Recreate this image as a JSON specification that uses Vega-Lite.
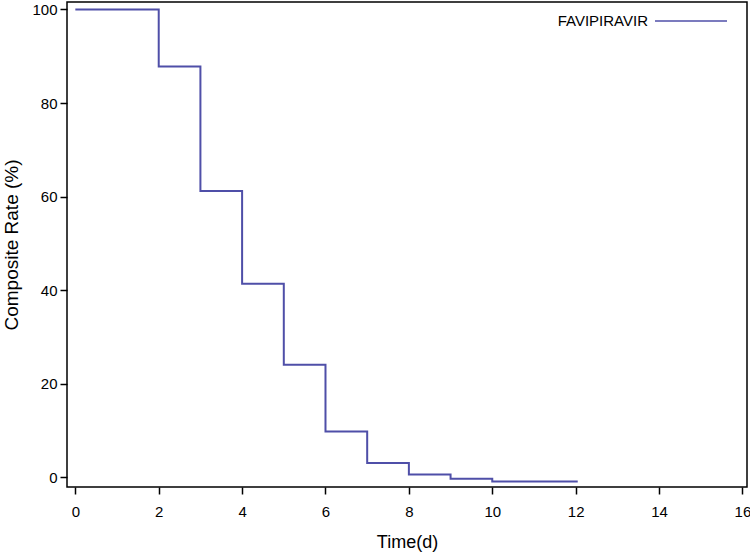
{
  "$schema": "https://vega.github.io/schema/vega-lite/v6.json",
  "width": 680,
  "height": 485,
  "autosize": "none",
  "padding": {"left": 67, "top": 2, "right": 3, "bottom": 66},
  "background": "white",
  "config": {
    "view": {"stroke": "black", "strokeWidth": 1.5},
    "font": "Liberation Sans",
    "axis": {"grid": false, "domain": false, "tickColor": "black", "labelColor": "black", "titleColor": "black", "labelFontSize": 15, "titleFontSize": 18, "titleFontWeight": "normal", "tickSize": 7, "tickWidth": 1.5}
  },
  "data": {
    "values": [
      {"t": 0, "rate": 100, "group": "FAVIPIRAVIR"},
      {"t": 2, "rate": 87.8, "group": "FAVIPIRAVIR"},
      {"t": 3, "rate": 61.2, "group": "FAVIPIRAVIR"},
      {"t": 4, "rate": 41.4, "group": "FAVIPIRAVIR"},
      {"t": 5, "rate": 24.1, "group": "FAVIPIRAVIR"},
      {"t": 6, "rate": 9.8, "group": "FAVIPIRAVIR"},
      {"t": 7, "rate": 3.1, "group": "FAVIPIRAVIR"},
      {"t": 8, "rate": 0.6, "group": "FAVIPIRAVIR"},
      {"t": 9, "rate": -0.3, "group": "FAVIPIRAVIR"},
      {"t": 10, "rate": -0.9, "group": "FAVIPIRAVIR"},
      {"t": 12.05, "rate": -0.9, "group": "FAVIPIRAVIR"}
    ]
  },
  "mark": {"type": "line", "interpolate": "step-after", "strokeWidth": 2},
  "encoding": {
    "x": {
      "field": "t", "type": "quantitative",
      "scale": {"domain": [-0.2, 16.11], "nice": false, "zero": false},
      "axis": {"title": "Time(d)", "values": [0, 2, 4, 6, 8, 10, 12, 14, 16], "labelPadding": 10, "titlePadding": 14}
    },
    "y": {
      "field": "rate", "type": "quantitative",
      "scale": {"domain": [-2.05, 101.6], "nice": false, "zero": false},
      "axis": {"title": "Composite Rate (%)", "titleFontSize": 19, "values": [0, 20, 40, 60, 80, 100], "labelPadding": 3, "titlePadding": 10}
    },
    "color": {
      "field": "group", "type": "nominal",
      "scale": {"range": ["#4f4fa8"]},
      "legend": {
        "title": null,
        "orient": "none",
        "legendX": 587,
        "legendY": -18,
        "padding": 0,
        "symbolType": "stroke",
        "symbolSize": 5184,
        "symbolStrokeWidth": 1.5,
        "labelAlign": "right",
        "labelOffset": -80,
        "labelFontSize": 15,
        "labelColor": "black"
      }
    }
  }
}
